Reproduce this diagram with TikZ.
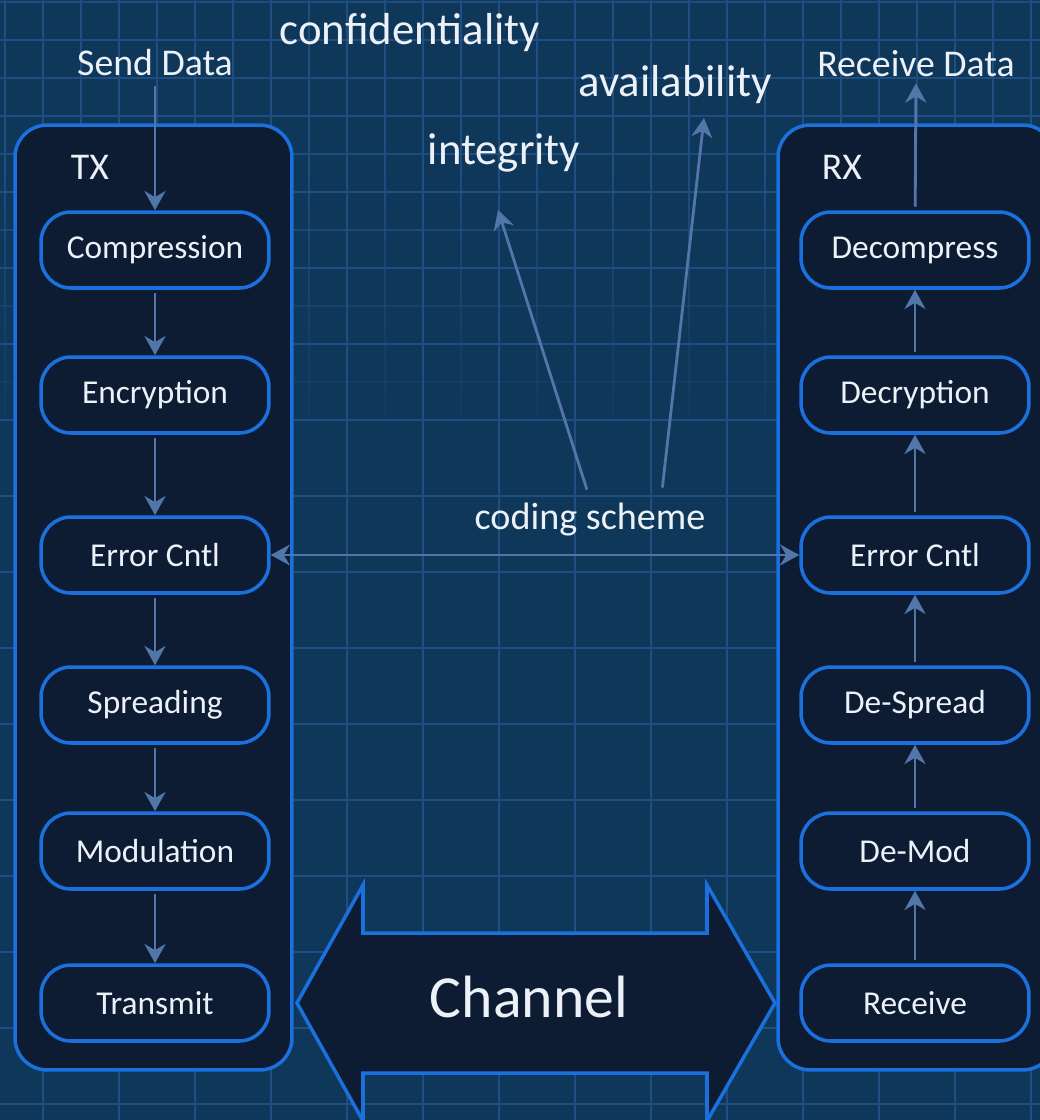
\documentclass[tikz,border=0pt]{standalone}
\usepackage{fontspec}
\setmainfont{Carlito}
\usetikzlibrary{arrows.meta,positioning}
\definecolor{bgblue}{RGB}{14,55,90}
\definecolor{gridblue}{RGB}{31,79,130}
\definecolor{boxfill}{RGB}{13,28,50}
\definecolor{edgeblue}{RGB}{26,112,220}
\definecolor{flowblue}{RGB}{82,118,168}
\definecolor{textwhite}{RGB}{236,241,248}

\begin{document}
\begin{tikzpicture}[x=0.02cm,y=-0.02cm,
    >={Stealth[length=11pt,width=12pt]},
    unit/.style={draw=edgeblue, line width=2pt, fill=boxfill, rounded corners=0.64cm,
        minimum width=5.54cm, minimum height=18.9cm},
    stage/.style={draw=edgeblue, line width=2pt, fill=boxfill, rounded corners=0.6cm,
        minimum width=4.56cm, minimum height=1.52cm, text=textwhite,
        font=\fontsize{19}{23}\selectfont},
    flow/.style={->, draw=flowblue, line width=1.6pt, shorten <=2pt},
    tag/.style={text=textwhite, font=\fontsize{21.5}{26}\selectfont},
    goal/.style={text=textwhite, font=\fontsize{25.5}{30}\selectfont},
    gridline/.style={gridblue, line width=0.9pt}]

    % Background and grid
    \fill[bgblue] (0,0) rectangle (1040,1120);
    \useasboundingbox (0,0) rectangle (1040,1120);
    \clip (0,0) rectangle (1040,1120);
    \foreach \x in {43,119,...,1040}
        \draw[gridline] (\x,0) -- (\x,1120);
    \foreach \y in {40,116,...,1120}
        \draw[gridline] (0,\y) -- (1040,\y);
    % finer lines near the top, fading out downwards
    \foreach \s in {0,30,...,420} {
        \pgfmathsetmacro\op{max(0,min(1,(435-\s)/300))}
        \draw[gridline, opacity=\op] foreach \x in {5,81,...,1040} {(\x,\s) -- (\x,\s+30)};
    }
    \foreach \y in {2,78,...,450} {
        \pgfmathsetmacro\op{max(0,min(1,(450-\y)/300))}
        \draw[gridline, opacity=\op] (0,\y) -- (1040,\y);
    }

    % Transmitter and receiver units
    \node[unit] (txbox) at (153.5,597.5) {};
    \node[unit] (rxbox) at (916.5,597.5) {};
    \node[tag] (txlabel) at (90,167) {TX};
    \node[tag] (rxlabel) at (842,167) {RX};

    % TX chain
    \node[stage] (comp) at (155,250) {Compression};
    \node[stage] (enc) at (155,395) {Encryption};
    \node[stage] (txerr) at (155,555) {Error Cntl};
    \node[stage] (spread) at (155,705) {Spreading};
    \node[stage] (mod) at (155,851) {Modulation};
    \node[stage] (transmit) at (155,1003) {Transmit};

    % RX chain
    \node[stage] (decomp) at (915,250) {Decompress};
    \node[stage] (decry) at (915,395) {Decryption};
    \node[stage] (rxerr) at (915,555) {Error Cntl};
    \node[stage] (despread) at (915,705) {De-Spread};
    \node[stage] (demod) at (915,851) {De-Mod};
    \node[stage] (receive) at (915,1003) {Receive};

    % Data in and out
    \node[tag] (senddata) at (155,63) {Send Data};
    \node[tag] (recvdata) at (916,64) {Receive Data};

    \foreach \a/\b in {comp/enc, enc/txerr, txerr/spread, spread/mod, mod/transmit}
        \draw[flow] (\a) -- (\b);
    \foreach \a/\b in {receive/demod, demod/despread, despread/rxerr, rxerr/decry, decry/decomp}
        \draw[flow] (\a) -- (\b);
    \draw[flow] (senddata) -- (comp);
    \draw[flow] (decomp) -- (recvdata);

    % Coding scheme and what it protects
    \draw[<->, draw=flowblue, line width=1.6pt] (txerr) -- (rxerr);
    \node[tag, font=\fontsize{21.7}{26}\selectfont] (coding) at (590,520) {coding scheme};
    \node[goal] (conf) at (410,33) {confidentiality};
    \node[goal] (avail) at (675,85) {availability};
    \node[goal] (integ) at (504,153) {integrity};
    \coordinate (integtip) at (498,210);
    \coordinate (availtip) at (704,118);
    \draw[flow] (588,493) -- (integtip);
    \draw[flow] (662,491) -- (availtip);

    % Channel between the units
    \draw[edgeblue, line width=2pt, fill=boxfill, line join=miter]
        (297,1003) -- (363,885) -- (363,933) -- (707,933) -- (707,885) -- (775,1003)
        -- (707,1121) -- (707,1073) -- (363,1073) -- (363,1121) -- cycle;
    \node[text=textwhite, font=\fontsize{34}{40}\selectfont] (channel) at (529,997) {Channel};
\end{tikzpicture}
\end{document}
